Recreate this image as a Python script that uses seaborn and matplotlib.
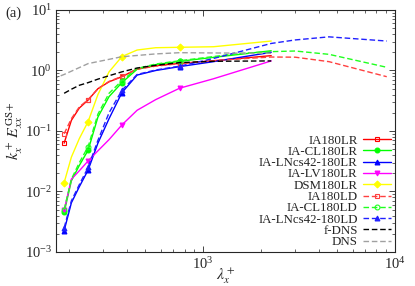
import numpy as np
import pandas as pd
import matplotlib
matplotlib.use("Agg")
import matplotlib.pyplot as plt
import matplotlib.ticker as mticker
import seaborn as sns

# wavelengths (LR grid, LD grid, DNS grid)
lam_lr = [188.5, 205.6, 226.2, 251.3, 282.7, 323.1, 377.0, 452.4, 565.5, 754.0, 1131.0, 2262.0]
lam_ld = [188.5, 205.6, 226.2, 251.3, 282.7, 323.1, 377.0, 452.4, 565.5, 754.0, 1131.0, 1508.0,
          2262.0, 3016.0, 4524.0, 9048.0]
lam_dns = [150.0, 188.5, 251.3, 377.0, 565.5, 754.0, 1131.0, 2262.0]

# spectra
ia180lr = [0.063, 0.15, 0.24, 0.325, 0.5, 0.65, 0.79, 1.06, 1.2, 1.31, 1.45, 1.76]
ia_cl180lr = [0.0045, 0.015, 0.027, 0.048, 0.17, 0.37, 0.63, 1.05, 1.25, 1.42, 1.65, 2.12]
ia_ln180lr = [0.00225, 0.0065, 0.012, 0.0226, 0.063, 0.16, 0.43, 0.84, 1.0, 1.16, 1.4, 2.0]
ia_lv180lr = [0.0049, 0.016, 0.022, 0.032, 0.047, 0.072, 0.126, 0.22, 0.33, 0.51, 0.73, 1.44]
dsm180lr = [0.014, 0.037, 0.075, 0.143, 0.4, 0.95, 1.7, 2.18, 2.38, 2.42, 2.47, 3.07]
ia180ld = [0.09, 0.16, 0.25, 0.33, 0.5, 0.66, 0.8, 1.05, 1.18, 1.3, 1.45, 1.55, 1.67, 1.66, 1.4, 0.79]
ia_cl180ld = [0.005, 0.016, 0.03, 0.055, 0.19, 0.42, 0.68, 1.08, 1.28, 1.45, 1.7, 1.9, 2.05, 2.1, 1.85, 1.13]
ia_ln180ld = [0.0025, 0.007, 0.013, 0.025, 0.07, 0.2, 0.47, 0.86, 1.02, 1.18, 1.58, 2.0, 2.8, 3.2, 3.6, 3.07]
fdns = [0.42, 0.49, 0.57, 0.63, 0.72, 0.82, 0.95, 1.1, 1.22, 1.35, 1.42, 1.44]
dns = [0.65, 0.86, 1.3, 1.69, 1.88, 1.97, 1.95, 1.92]

sns.set_style("ticks")
plt.rcParams["font.family"] = ["Liberation Serif", "DejaVu Serif"]
plt.rcParams["mathtext.fontset"] = "stix"
plt.rcParams["font.size"] = 9

fig = plt.figure(figsize=(4.15, 2.86), dpi=100)
ax = fig.add_axes([0.135, 0.119, 0.817, 0.846])

series = [
    ("IA180LR", lam_lr, ia180lr, "#ff0000", "-", "s", "none"),
    ("IA-CL180LR", lam_lr, ia_cl180lr, "#00ff00", "-", "o", "#00ff00"),
    ("IA-LNcs42-180LR", lam_lr, ia_ln180lr, "#0000ff", "-", "^", "#0000ff"),
    ("IA-LV180LR", lam_lr, ia_lv180lr, "#ff00ff", "-", "v", "#ff00ff"),
    ("DSM180LR", lam_lr, dsm180lr, "#ffff00", "-", "D", "#ffff00"),
    ("IA180LD", lam_ld, ia180ld, "#ff4040", (0, (4, 2)), "s", "none"),
    ("IA-CL180LD", lam_ld, ia_cl180ld, "#20ff20", (0, (4, 2)), "o", "none"),
    ("IA-LNcs42-180LD", lam_ld, ia_ln180ld, "#2020ff", (0, (4, 2)), "^", "#2020ff"),
]

for name, lam, vals, col, ls, mk, mfc in series:
    df = pd.DataFrame({"lam": lam, "E": vals})
    sns.lineplot(data=df, x="lam", y="E", ax=ax, color=col, linestyle=ls, linewidth=1.0,
                 marker=mk, markersize=3.5, markerfacecolor=mfc, markeredgecolor=col,
                 markeredgewidth=0.8, markevery=[0, 3, 6, 9], label=name,
                 errorbar=None, sort=False)

sns.lineplot(x=lam_lr, y=fdns, ax=ax, color="black", linestyle=(0, (4, 2)), linewidth=1.0,
             label="f-DNS", errorbar=None, sort=False)
sns.lineplot(x=lam_dns, y=dns, ax=ax, color="#a0a0a0", linestyle=(0, (4, 2)), linewidth=1.0,
             label="DNS", errorbar=None, sort=False)

ax.set_xscale("log")
ax.set_yscale("log")
ax.set_xlim(171, 10000)
ax.set_ylim(1e-3, 1e1)
ax.xaxis.set_minor_formatter(mticker.NullFormatter())
ax.yaxis.set_major_locator(mticker.LogLocator(base=10, numticks=10))
ax.yaxis.set_minor_locator(mticker.LogLocator(base=10, subs=np.arange(2, 10), numticks=20))
ax.yaxis.set_minor_formatter(mticker.NullFormatter())
ax.tick_params(which="both", direction="in", top=True, right=True, labelsize=10.5, pad=3)
ax.tick_params(which="major", length=4, width=0.6)
ax.tick_params(which="minor", length=2, width=0.5)
for sp in ax.spines.values():
    sp.set_linewidth(0.8)

ax.set_xlabel(r"$\lambda_x^+$", fontsize=11.5, labelpad=-4)
ax.set_ylabel(r"$k_x^+\,E_{xx}^{\mathrm{GS}+}$", fontsize=11.5, labelpad=0)
fig.text(0.012, 0.955, "(a)", fontsize=10.5, va="center")

leg = ax.legend(loc="lower right", markerfirst=False, frameon=False, fontsize=9.3,
                labelspacing=-0.06, handlelength=2.2, handletextpad=0.4,
                borderaxespad=0.2, borderpad=0.1)
for col in leg._legend_handle_box.get_children():
    col.align = "right"

fig.savefig("out.png", dpi=100)
